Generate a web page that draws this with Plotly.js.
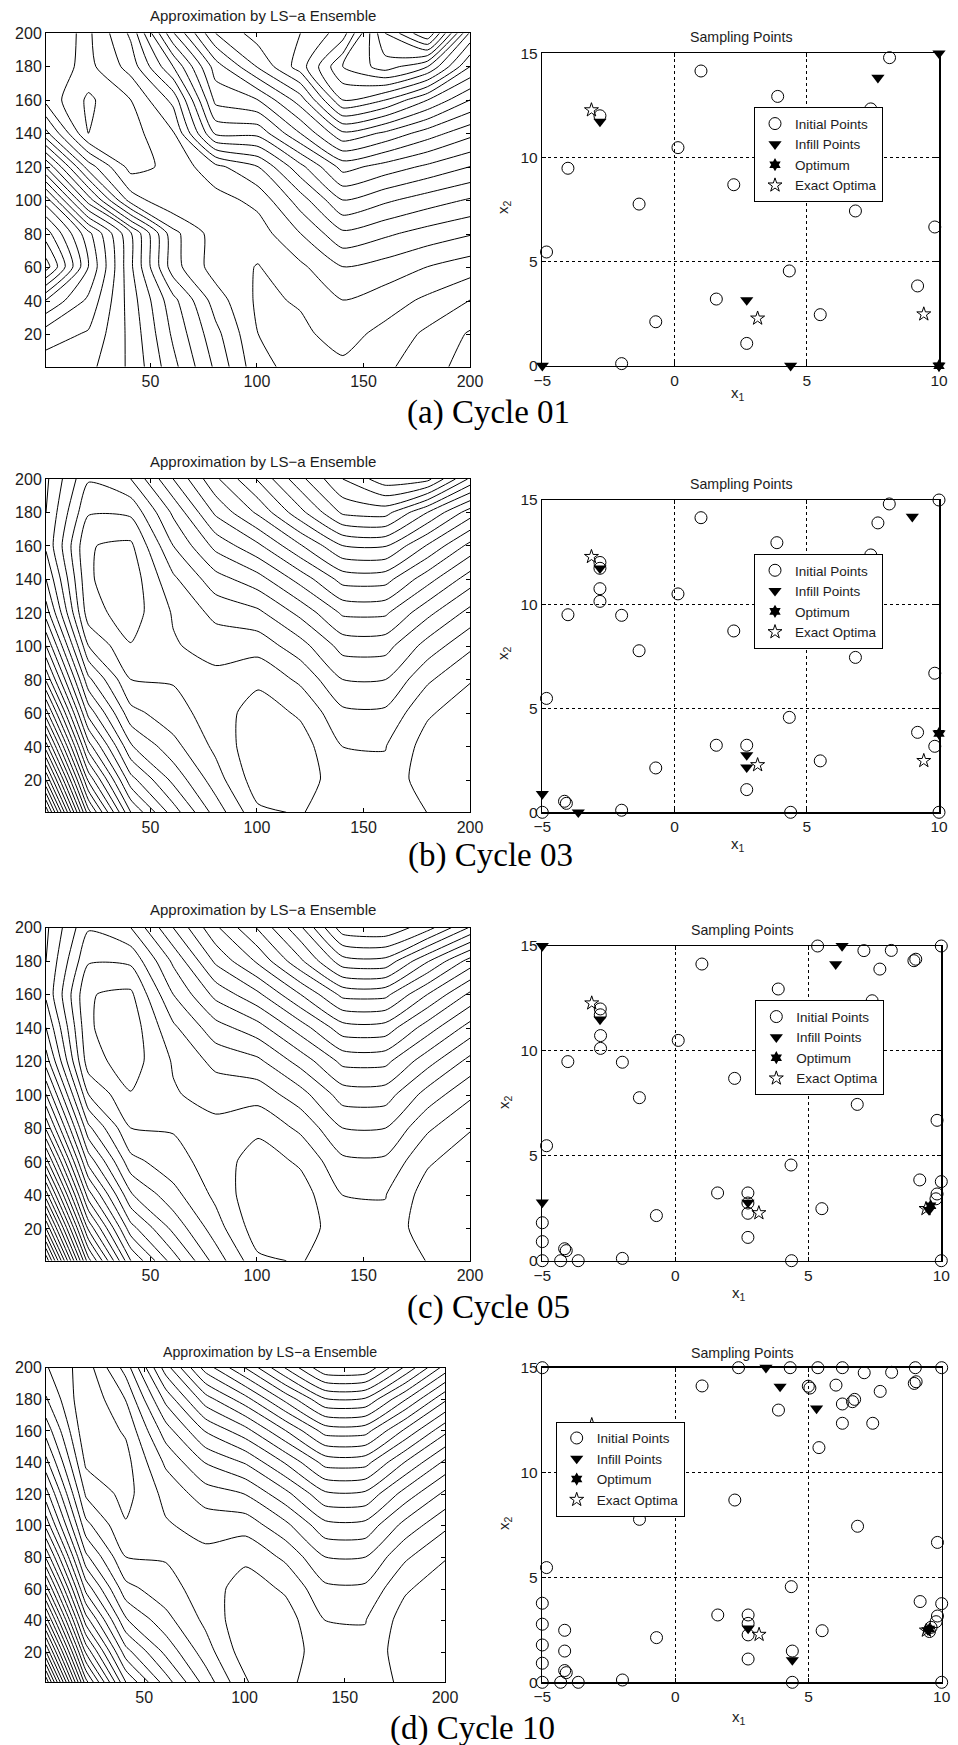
<!DOCTYPE html>
<html>
<head>
<meta charset="utf-8">
<script src="https://cdn.plot.ly/plotly-3.0.1.min.js"></script>
<style>
  html, body { margin: 0; padding: 0; background: #fff; }
  #fig { width: 958px; height: 1745px; }
</style>
</head>
<body>
<div id="fig"></div>
<script>
// ---------------- data ----------------
// surrogate surfaces sampled on an 11 x 11 grid of the 200 x 200 index space
const gridPx = [1, 20.9, 40.8, 60.7, 80.6, 100.5, 120.4, 140.3, 160.2, 180.1, 200];

// rows run bottom (index 1) to top (index 200)
const surfCycle01 = [
  [125, 123, 108, 83, 58, 33, 26, 28, 22, 14, 6],
  [135, 129, 107, 78, 53, 30, 28, 34, 27, 18, 9],
  [160, 138, 105, 73, 45, 28, 31, 40, 35, 28, 20],
  [205, 150, 102, 54, 35, 29.5, 38, 50, 46, 40, 35],
  [185, 143, 101, 53, 35, 35, 50, 68, 62, 56, 51],
  [155, 95, 45, 31, 36, 43, 65, 90, 82, 75, 69],
  [109, 55, 26, 33, 47, 60, 87, 114, 106, 98, 90],
  [63, 20, 26, 39, 92, 93, 120, 148, 138, 125, 113],
  [37, 18, 30, 53, 113, 120, 145, 190, 180, 160, 140],
  [36, 27, 44, 80, 125, 151, 175, 210, 225, 210, 170],
  [35, 28, 52, 109, 150, 165, 170, 185, 240, 270, 198]
];
const surfCycle03 = [
  [308, 174, 100, 65, 35.8, 12, 9.0, 18.1, 18.7, 9.8, 8.5],
  [258.8, 136.8, 73.2, 46.8, 24.4, 4.1, 3.8, 16.9, 17.3, 4.3, 4.2],
  [214.0, 104.1, 50.9, 33.1, 17.5, 2.3, 5.4, 20.2, 20.5, 5.6, 1.9],
  [173.7, 75.9, 33.0, 23.8, 15.2, 5.1, 11.6, 28.0, 28.2, 11.5, 4.2],
  [137.9, 52.2, 19.7, 19.1, 17.3, 12.4, 22.2, 40.3, 40.4, 21.8, 10.9],
  [110, 30, 10.5, 19, 24, 24, 36, 54, 54, 36, 22],
  [85, 14, 5, 21, 33, 38, 53, 72, 72, 53, 37],
  [70, 11, 4, 28, 46, 56, 74, 94, 94, 74, 55],
  [58, 10.5, 8, 40, 63, 78, 99, 120, 121, 99, 77],
  [60, 21, 22, 52, 82, 102, 127, 152, 154, 130, 105],
  [62, 31, 40, 70, 98, 121, 147, 170, 186, 183, 148]
];
const surfCycle05 = [
  [308, 174, 100, 65, 35.8, 12, 9.0, 18.1, 18.7, 9.5, 8.0],
  [258.8, 136.8, 73.2, 46.8, 24.4, 4.1, 3.8, 16.9, 17.3, 4.0, 4.0],
  [214.0, 104.1, 50.9, 33.1, 17.5, 2.0, 5.4, 20.2, 20.5, 5.4, 1.9],
  [173.7, 75.9, 33.0, 23.8, 15.2, 5.1, 11.6, 28.0, 28.2, 11.5, 4.2],
  [137.9, 52.2, 19.7, 19.1, 17.3, 12.4, 22.2, 40.3, 40.4, 21.8, 10.9],
  [110, 30, 10.5, 19, 24, 24, 36, 55, 55, 36, 22],
  [85, 14, 5, 21, 33, 38, 54, 73, 73, 54, 37],
  [70, 11, 4, 28, 46, 56, 75, 96, 96, 75, 56],
  [58, 10.5, 8, 40, 63, 78, 100, 123, 123, 100, 78],
  [60, 21, 22, 52, 82, 102, 128, 156, 157, 131, 106],
  [62, 31, 40, 70, 98, 121, 148, 186, 188, 174, 149]
];
const surfCycle10 = [
  [308, 174, 100.1, 65.0, 35.8, 10.3, 6.6, 18.1, 18.7, 6.5, 9.0],
  [258.8, 136.8, 73.2, 46.8, 24.4, 4.1, 3.8, 16.9, 17.3, 4.3, 4.2],
  [214.0, 104.1, 50.9, 33.1, 17.5, 2.3, 5.4, 20.2, 20.5, 5.6, 1.9],
  [173.7, 75.9, 33.0, 23.8, 15.2, 5.1, 11.6, 28.0, 28.2, 11.5, 4.2],
  [137.9, 52.2, 19.7, 19.1, 17.3, 12.4, 22.2, 40.3, 40.4, 21.8, 10.9],
  [106.6, 33.0, 10.8, 18.9, 24.0, 24.1, 37.4, 57.1, 57.1, 36.6, 22.2],
  [84, 18.3, 6.5, 23.1, 35.1, 40.4, 57.0, 78.4, 78.2, 56.0, 37.9],
  [63, 8.0, 6.6, 31.9, 50.7, 61.2, 81.2, 104.1, 103.9, 79.8, 58.1],
  [46, 2.3, 11.3, 45.2, 70.9, 86.4, 109.8, 134.4, 134.1, 108.1, 82.9],
  [31, 1.1, 20.4, 62.9, 95.5, 116.2, 142.9, 169.2, 168.8, 141.0, 112.1],
  [21, 4.4, 34.1, 85.2, 124.6, 150.4, 180.6, 208.5, 208.0, 178.3, 145.9]
];
const contourLevels = { start: 10, end: 300, size: 10 };

// sampling points (x1, x2)
const c01InitX = [1.0, 3.9, 8.13, 7.42, -2.82, 0.13, -4.03, 2.24, -1.34, 6.84, 9.84, -4.84, 4.34, 9.19, 1.58, 5.51, -0.71, 2.73, -2.0];
const c01InitY = [14.15, 12.93, 14.79, 12.33, 12.0, 10.47, 9.48, 8.69, 7.76, 7.43, 6.66, 5.46, 4.55, 3.83, 3.2, 2.45, 2.11, 1.07, 0.1];
const c01InfillX = [-2.82, 7.69, 10, 2.73, -5, 4.39, 10];
const c01InfillY = [11.72, 13.83, 15, 3.15, 0, 0, 0];
const c01OptX = [10], c01OptY = [0];

const c03InitX = [1.0, 3.87, 8.12, 7.69, 7.42, 10, -2.82, -2.82, -2.82, -2.82, 0.13, -4.03, -2.0, 2.24, -1.34, 6.84, 9.84, -4.84, 4.34, 9.19, 9.84, 1.58, 2.73, 5.51, -0.71, 2.73, -2.0, -4.16, -4.09, -5, 4.39, 10];
const c03InitY = [14.15, 12.95, 14.81, 13.9, 12.36, 15, 12.0, 11.72, 10.74, 10.13, 10.49, 9.49, 9.46, 8.71, 7.76, 7.44, 6.68, 5.47, 4.56, 3.84, 3.17, 3.22, 3.22, 2.47, 2.13, 1.09, 0.1, 0.53, 0.43, 0, 0, 0];
const c03InfillX = [8.99, -2.82, 2.73, 2.73, -5, -3.64, 10];
const c03InfillY = [14.2, 11.72, 2.75, 2.16, 0.88, 0, 3.79];
const c03OptX = [10], c03OptY = [3.79];

const c05InitX = [5.35, 10, 7.09, 8.12, 8.97, 9.04, 7.69, 1.0, 3.87, 7.4, -2.82, -2.82, -2.81, -2.81, 0.11, -4.04, -1.99, 2.23, -1.35, 6.84, 9.84, -4.84, 4.35, 9.19, 10, 9.84, 9.8, 1.59, 2.73, 2.73, 2.73, 5.51, -0.71, 2.73, -1.99, -5, -5, -4.16, -4.1, -5, -4.31, -3.65, 4.37, 10];
const c05InitY = [15, 15, 14.78, 14.79, 14.3, 14.37, 13.9, 14.14, 12.95, 12.39, 12.0, 11.72, 10.73, 10.12, 10.5, 9.49, 9.46, 8.69, 7.77, 7.45, 6.69, 5.48, 4.56, 3.85, 3.77, 3.18, 2.95, 3.23, 3.23, 2.75, 2.26, 2.48, 2.15, 1.11, 0.11, 1.81, 0.91, 0.57, 0.48, 0, 0, 0, 0, 0];
const c05InfillX = [-5, 6.27, 6.03, -2.83, 2.73, -5, 9.54];
const c05InfillY = [15, 15, 14.13, 11.5, 2.77, 2.78, 2.42];
const c05OptX = [9.6], c05OptY = [2.62];

const c10InitX = [-5, 2.37, 4.31, 5.35, 6.27, 9.01, 10, 7.09, 8.12, 8.97, 9.04, 1.0, 4.99, 5.05, 6.03, 6.27, 6.65, 6.73, 7.69, 3.87, 6.27, 7.41, 5.39, -2.82, -2.82, -2.83, -2.81, -2.81, 0.11, -4.04, -1.99, 2.23, -1.35, 6.84, 9.84, -4.84, 4.35, 9.19, 10, 9.84, 9.79, 9.6, 9.54, 1.59, 2.73, 2.73, 2.73, 5.51, -0.71, 2.73, 4.39, -1.99, -5, -5, -5, -5, -4.16, -4.16, -4.16, -4.1, -5, -4.31, -3.65, 4.39, 10];
const c10InitY = [15, 15, 15, 15, 15, 15, 15, 14.76, 14.78, 14.25, 14.33, 14.13, 14.12, 14.03, 14.17, 13.27, 13.38, 13.49, 13.87, 12.98, 12.35, 12.35, 11.19, 12.0, 11.72, 11.5, 10.73, 10.12, 10.5, 9.49, 9.46, 8.69, 7.77, 7.44, 6.67, 5.47, 4.56, 3.85, 3.75, 3.16, 2.89, 2.62, 2.42, 3.21, 3.21, 2.81, 2.26, 2.46, 2.13, 1.11, 1.49, 0.11, 3.77, 2.77, 1.78, 0.91, 2.48, 1.49, 0.56, 0.46, 0, 0, 0, 0, 0];
const c10InfillX = [3.4, 3.93, 5.3, 2.73, 4.39, 9.48];
const c10InfillY = [15, 14.1, 13.06, 2.57, 1.06, 2.49];
const c10OptX = [9.54], c10OptY = [2.54];

const exactOptX = [-3.1416, 3.1416, 9.4248];
const exactOptY = [12.275, 2.275, 2.475];

const x1Ticks = [-5, 0, 5, 10];
const x2Ticks = [0, 5, 10, 15];
const idxTicksX = [50, 100, 150, 200];
const idxTicksY = [20, 40, 60, 80, 100, 120, 140, 160, 180, 200];

const contourTitle = 'Approximation by LS\u2212a Ensemble';
const scatterTitle = 'Sampling Points';
const legendNames = ['Initial Points', 'Infill Points', 'Optimum', 'Exact Optima'];
const captions = ['(a) Cycle 01', '(b) Cycle 03', '(c) Cycle 05', '(d) Cycle 10'];

// ---------------- page layout (pixels) ----------------
const W = 958, H = 1745;
const fx = v => v / W, fy = v => 1 - v / H;

const panels = [
  { surf: surfCycle01, cbox: [46, 33.3, 470, 366.7], ctitle: [262.5, 16],
    sbox: [542.3, 53.3, 939, 365.7], stitle: [741, 37], xlab: [738, 393], ylab: [504, 207],
    leg: [754, 107.3], cap: [488, 412.5],
    init: [c01InitX, c01InitY], infill: [c01InfillX, c01InfillY], opt: [c01OptX, c01OptY] },
  { surf: surfCycle03, cbox: [46, 479, 470, 812.3], ctitle: [262.5, 462],
    sbox: [542.3, 500, 939, 812.3], stitle: [741, 484], xlab: [738, 845], ylab: [504, 653],
    leg: [754, 554], cap: [490, 855],
    init: [c03InitX, c03InitY], infill: [c03InfillX, c03InfillY], opt: [c03OptX, c03OptY] },
  { surf: surfCycle05, cbox: [46, 927.7, 470, 1260.7], ctitle: [262.5, 910],
    sbox: [542.3, 946, 941.3, 1260.7], stitle: [742, 930], xlab: [739, 1293], ylab: [504, 1102],
    leg: [755.3, 1000.3], cap: [488.5, 1307],
    init: [c05InitX, c05InitY], infill: [c05InfillX, c05InfillY], opt: [c05OptX, c05OptY] },
  { surf: surfCycle10, cbox: [46, 1367.7, 445, 1682.3], ctitle: [269.5, 1352],
    sbox: [542.3, 1367.7, 941.7, 1682.3], stitle: [742, 1352.5], xlab: [739, 1717], ylab: [504, 1523],
    leg: [555.7, 1421.7], cap: [472, 1728],
    init: [c10InitX, c10InitY], infill: [c10InfillX, c10InfillY], opt: [c10OptX, c10OptY] }
];

const TXT = '#1c1c1c';
const SANS = 'Liberation Sans, Arial, Helvetica, sans-serif';

const layout = {
  width: W, height: H,
  margin: { l: 0, r: 0, t: 0, b: 0 },
  paper_bgcolor: '#fff', plot_bgcolor: '#fff',
  font: { family: SANS, color: TXT },
  showlegend: true,
  annotations: []
};
const data = [];

function boxAxis(extra) {
  return Object.assign({
    showline: true, linecolor: '#000', linewidth: 1, mirror: 'allticks',
    ticks: 'inside', ticklen: 4, tickcolor: '#000', tickwidth: 1,
    zeroline: false, fixedrange: true
  }, extra);
}

function note(text, x, y, size, extra) {
  layout.annotations.push(Object.assign({
    text: text, xref: 'paper', yref: 'paper', x: fx(x), y: fy(y),
    xanchor: 'center', yanchor: 'middle', showarrow: false,
    font: { family: SANS, size: size, color: TXT }
  }, extra || {}));
}

panels.forEach((p, i) => {
  const ci = 2 * i + 1, si = 2 * i + 2;
  const cx = 'x' + (ci === 1 ? '' : ci), cy = 'y' + (ci === 1 ? '' : ci);
  const sx = 'x' + si, sy = 'y' + si;
  const legName = i === 0 ? 'legend' : 'legend' + (i + 1);

  // contour panel
  layout['xaxis' + (ci === 1 ? '' : ci)] = boxAxis({
    domain: [fx(p.cbox[0]), fx(p.cbox[2])], anchor: cy,
    range: [1, 200], tickvals: idxTicksX, showgrid: false,
    tickfont: { size: 16, color: TXT }
  });
  layout['yaxis' + (ci === 1 ? '' : ci)] = boxAxis({
    domain: [fy(p.cbox[3]), fy(p.cbox[1])], anchor: cx,
    range: [1, 200], tickvals: idxTicksY, showgrid: false,
    tickfont: { size: 16, color: TXT }
  });
  data.push({
    type: 'contour', x: gridPx, y: gridPx, z: p.surf,
    xaxis: cx, yaxis: cy, showscale: false, showlegend: false, hoverinfo: 'skip',
    autocontour: false,
    contours: Object.assign({ coloring: 'none', showlabels: false }, contourLevels),
    line: { color: '#000', width: 1, smoothing: 0.6 }
  });

  // sampling panel
  layout['xaxis' + si] = boxAxis({
    domain: [fx(p.sbox[0]), fx(p.sbox[2])], anchor: sy,
    range: [-5, 10], tickvals: x1Ticks, showgrid: true, linewidth: 1.5,
    gridcolor: '#000', griddash: 'dot', gridwidth: 1,
    tickfont: { size: 15.5, color: TXT }
  });
  layout['yaxis' + si] = boxAxis({
    domain: [fy(p.sbox[3]), fy(p.sbox[1])], anchor: sx,
    range: [0, 15], tickvals: x2Ticks, showgrid: true, linewidth: 1.5,
    gridcolor: '#000', griddash: 'dot', gridwidth: 1,
    tickfont: { size: 15.5, color: TXT }
  });
  const common = { type: 'scatter', mode: 'markers', xaxis: sx, yaxis: sy, legend: legName,
                   cliponaxis: false, hoverinfo: 'skip' };
  data.push(Object.assign({}, common, {
    x: p.init[0], y: p.init[1], name: legendNames[0],
    marker: { symbol: 'circle-open', size: 12, color: '#000', line: { width: 1, color: '#000' } }
  }));
  data.push(Object.assign({}, common, {
    x: p.infill[0], y: p.infill[1], name: legendNames[1],
    marker: { symbol: 'triangle-down', size: 11.5, color: '#000' }
  }));
  data.push(Object.assign({}, common, {
    x: p.opt[0], y: p.opt[1], name: legendNames[2],
    marker: { symbol: 'hexagram', size: 10, color: '#000' }
  }));
  data.push(Object.assign({}, common, {
    x: exactOptX, y: exactOptY, name: legendNames[3],
    marker: { symbol: 'star-open', size: 10.5, color: '#000', line: { width: 1, color: '#000' } }
  }));

  layout[legName] = {
    x: fx(p.leg[0]), y: fy(p.leg[1]), xanchor: 'left', yanchor: 'top',
    bgcolor: '#fff', bordercolor: '#000', borderwidth: 1,
    font: { family: SANS, size: 13.5, color: TXT }, tracegroupgap: 0,
    itemclick: false, itemdoubleclick: false
  };

  // texts
  note(contourTitle, p.ctitle[0], p.ctitle[1], i === 3 ? 14.2 : 15);
  note(scatterTitle, p.stitle[0], p.stitle[1], 14.2);
  note('x<sub>1</sub>', p.xlab[0], p.xlab[1], 15);
  note('x<sub>2</sub>', p.ylab[0], p.ylab[1], 15, { textangle: -90 });
  note(captions[i], p.cap[0], p.cap[1], 33,
       { font: { family: 'Liberation Serif, Times New Roman, serif', size: 33, color: '#000' } });
});

Plotly.newPlot('fig', data, layout, { displayModeBar: false, staticPlot: true });
</script>
</body>
</html>
